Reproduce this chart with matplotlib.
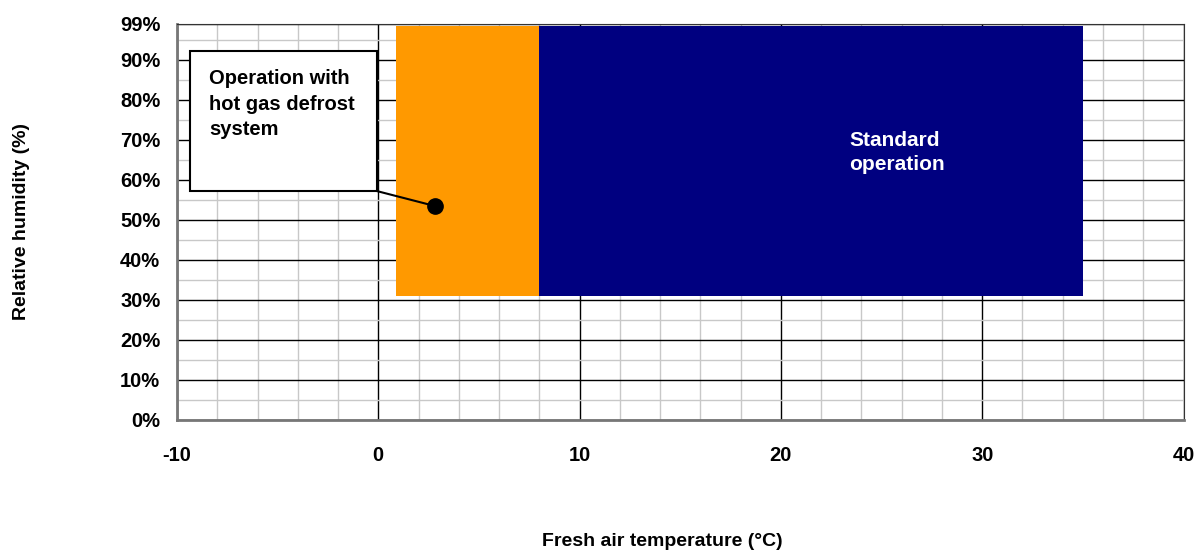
import matplotlib.pyplot as plt
from matplotlib.patches import Rectangle
from matplotlib.ticker import MultipleLocator, FixedLocator

plt.rcParams['font.family'] = ['Liberation Sans', 'DejaVu Sans']
plt.rcParams['font.weight'] = 'bold'
plt.rcParams['axes.labelweight'] = 'bold'
plt.rcParams['axes.unicode_minus'] = False

# zones: (temp min, temp max, rh min, rh max)
zone_names = ['Operation with\nhot gas defrost\nsystem', 'Standard\noperation']
zone_tmin = [0.9, 8.0]
zone_tmax = [8.0, 35.0]
zone_rhmin = [31, 31]
zone_rhmax = [98.5, 98.5]
zone_colors = ['#ff9900', '#000080']

marker_point = (2.8, 53.5)

y_ticks = [0, 10, 20, 30, 40, 50, 60, 70, 80, 90, 99]
y_labels = [f'{v}%' for v in y_ticks]

fig = plt.figure(figsize=(12.04, 5.57), dpi=100)
ax = fig.add_axes([0.147, 0.246, 0.836, 0.711])
ax.set_xlim(-10, 40)
ax.set_ylim(0, 99)

ax.xaxis.set_major_locator(MultipleLocator(10))
ax.xaxis.set_minor_locator(MultipleLocator(2))
ax.yaxis.set_major_locator(FixedLocator(y_ticks))
ax.yaxis.set_minor_locator(MultipleLocator(5))
ax.set_yticklabels(y_labels)

ax.grid(which='minor', color='#c8c8c8', lw=1.0)
ax.grid(which='major', color='black', lw=1.0)
ax.set_axisbelow(True)

ax.tick_params(which='both', length=0, labelsize=14.5)
ax.tick_params(axis='y', pad=12)
ax.tick_params(axis='x', pad=19)
for s in ax.spines.values():
    s.set_color('#333333')
ax.spines['left'].set_color('#777777')
ax.spines['left'].set_linewidth(2)
ax.spines['bottom'].set_color('#777777')
ax.spines['bottom'].set_linewidth(2)

for i in range(len(zone_names)):
    ax.add_patch(Rectangle((zone_tmin[i], zone_rhmin[i]),
                           zone_tmax[i] - zone_tmin[i],
                           zone_rhmax[i] - zone_rhmin[i],
                           facecolor=zone_colors[i], edgecolor='none', zorder=2))

ax.text(23.4, 66.8, zone_names[1], color='white', fontsize=15,
        ha='left', va='center', zorder=3, linespacing=1.35)

ax.plot(*marker_point, 'o', color='black', ms=11, zorder=5)
ax.plot([-0.05, marker_point[0]], [57.2, marker_point[1]], color='black', lw=1.5, zorder=4)

box = Rectangle((-9.35, 57.2), 9.3, 35, facecolor='white', edgecolor='black',
                lw=1.5, zorder=4)
ax.add_patch(box)
ax.text(-8.4, 87.8, zone_names[0], fontsize=14.5, ha='left', va='top',
        zorder=5, linespacing=1.45)

ax.set_ylabel('Relative humidity (%)', fontsize=14)
ax.yaxis.set_label_coords(-0.146, 0.5)
ax.set_xlabel('Fresh air temperature (°C)', fontsize=14)
ax.xaxis.set_label_coords(0.482, -0.285)

fig.savefig('out.png', dpi=100)
